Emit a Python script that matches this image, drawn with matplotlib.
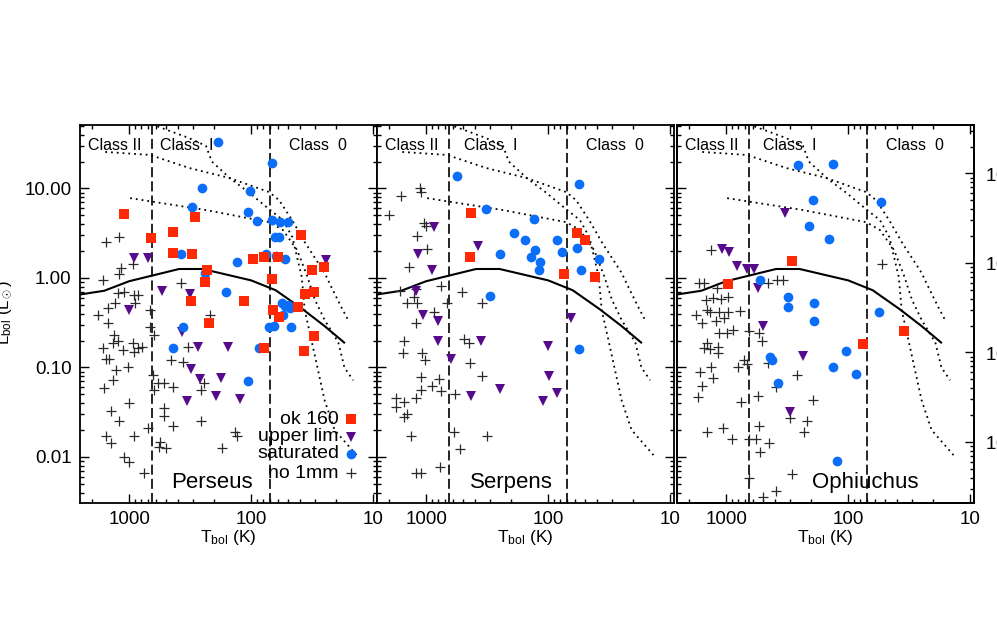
import matplotlib
matplotlib.use("Agg")
import matplotlib.pyplot as plt
from matplotlib.ticker import LogLocator, NullFormatter, FormatStrFormatter, LogFormatterMathtext

plt.rcParams['font.family'] = ['Liberation Sans', 'DejaVu Sans']
plt.rcParams['mathtext.fontset'] = 'custom'
plt.rcParams['mathtext.rm'] = 'Liberation Sans'
plt.rcParams['mathtext.it'] = 'Liberation Sans:italic'
plt.rcParams['mathtext.bf'] = 'Liberation Sans:bold'

# model curve (solid) and the three evolutionary tracks (dotted)
curve_t = [2600, 1600, 1000, 390, 250, 100, 63, 38, 25, 17.3]
curve_l = [0.65, 0.72, 0.92, 1.26, 1.26, 0.94, 0.73, 0.45, 0.29, 0.19]
track_a_t = [1570, 675, 320, 151, 71, 59, 46, 36, 25, 22, 18.2, 15.7]
track_a_l = [25.6, 23.7, 16.9, 13.1, 9.1, 7.4, 4.4, 2.46, 1.14, 0.79, 0.47, 0.32]
track_b_t = [650, 330, 235, 210, 150, 103, 70, 55, 46, 38.5, 36.4, 32, 25, 20.7, 13.7]
track_b_l = [52, 37, 30, 20, 13.1, 8.9, 5.75, 4.45, 2.87, 1.03, 0.44, 0.20, 0.043, 0.020, 0.0105]
track_c_t = [982, 237, 71, 55, 42, 35, 30, 25, 19.3, 17.2, 14.6]
track_c_l = [7.8, 5.75, 4.2, 3.44, 2.05, 1.08, 0.57, 0.34, 0.19, 0.10, 0.072]

# class boundaries (K)
class_bounds = [650, 70]

# ---- Perseus ----
per_ok_t = [1100, 660, 435, 290, 435, 305, 230, 240, 310, 115, 96, 78, 60, 67, 39, 32, 25.4,
            36, 30.6, 41, 220, 66, 59, 78, 30.6, 37]
per_ok_l = [5.2, 2.8, 3.3, 4.8, 1.9, 1.85, 1.23, 0.90, 0.55, 0.55, 1.63, 1.72, 1.72, 0.97, 3.0, 1.23, 1.33,
            0.66, 0.70, 0.47, 0.31, 0.44, 0.37, 0.165, 0.225, 0.153]
per_sat_t = [186, 67, 252, 102, 305, 106, 89, 67, 58, 50, 64, 59, 375, 239, 131, 75, 62, 53, 161,
             56, 53, 50, 48, 55, 71, 65, 47, 361, 436, 86, 106]
per_sat_l = [33, 19.2, 10.1, 9.4, 6.2, 5.46, 4.33, 4.45, 4.22, 4.22, 2.87, 2.87, 1.85, 1.14, 1.51, 1.85, 1.76, 1.63, 0.70,
             0.53, 0.49, 0.50, 0.46, 0.39, 0.28, 0.29, 0.28, 0.28, 0.165, 0.165, 0.070]
per_up_t = [910, 700, 537, 317, 24.5, 1000, 368, 272, 155, 311, 262, 176, 335, 194, 124]
per_up_l = [1.67, 1.67, 0.72, 0.66, 1.59, 0.44, 0.25, 0.17, 0.17, 0.096, 0.074, 0.076, 0.042, 0.048, 0.044]
per_no_t = [1540, 1208, 1164, 1208, 927, 1635, 1230, 1100, 910, 845, 1303, 1490, 1800, 893, 1490, 1330,
            1230, 1353, 1635, 1120, 927, 845, 783, 1545, 1460, 1280, 1353, 1605, 1020, 910, 1405, 1208,
            1000, 1545, 1405, 910, 1100, 1000, 754, 699, 673, 673, 625, 636, 625, 579, 557, 568, 498,
            517, 453, 361, 329, 436, 517, 517, 436, 257, 243, 257, 217, 173, 136, 131, 375]
per_no_l = [2.52, 2.87, 1.29, 1.11, 1.43, 0.95, 0.68, 0.70, 0.65, 0.65, 0.53, 0.46, 0.39, 0.53, 0.31, 0.23,
            0.20, 0.19, 0.165, 0.157, 0.19, 0.165, 0.17, 0.124, 0.124, 0.094, 0.072, 0.059, 0.101, 0.149, 0.033, 0.025,
            0.040, 0.017, 0.0143, 0.017, 0.0100, 0.0088, 0.0066, 0.021, 0.44, 0.28, 0.23, 0.082, 0.056, 0.067, 0.0147, 0.0129, 0.0126,
            0.067, 0.121, 0.115, 0.17, 0.061, 0.035, 0.029, 0.022, 0.056, 0.067, 0.025, 0.39, 0.0126, 0.019, 0.017, 0.88]

# ---- Serpens ----
ser_ok_t = [428, 436, 58, 50, 74, 41]
ser_ok_l = [5.3, 1.72, 3.18, 2.66, 1.11, 1.03]
ser_sat_t = [557, 56, 323, 131, 190, 155, 85, 248, 129, 139, 77, 58, 117, 119, 54, 38.4, 299, 56]
ser_sat_l = [13.8, 11.2, 5.9, 4.57, 3.18, 2.66, 2.66, 1.85, 2.05, 1.72, 1.95, 2.16, 1.51, 1.23, 1.23, 1.63, 0.63, 0.16]
ser_up_t = [860, 375, 1164, 893, 1208, 1060, 798, 798, 355, 625, 100, 65, 248, 428, 98, 85, 110]
ser_up_l = [3.71, 2.28, 1.85, 1.23, 0.72, 0.39, 0.33, 0.197, 0.197, 0.124, 0.174, 0.357, 0.058, 0.048, 0.080, 0.052, 0.042]
ser_no_t = [1120, 1100, 1605, 2010, 1038, 1000, 1185, 982, 1380, 1635, 1208, 1255, 1430, 1185, 754, 673,
            507, 348, 860, 1208, 1515, 1545, 1079, 1020, 489, 445, 436, 348, 1100, 783, 893, 1100, 754,
            1208, 1760, 1515, 1760, 1430, 1515, 579, 1330, 590, 317, 527, 1208, 1100, 768]
ser_no_l = [10.1, 9.1, 8.25, 5.06, 4.12, 3.81, 2.95, 2.11, 1.33, 0.72, 0.75, 0.61, 0.53, 0.53, 0.81, 0.53,
            0.70, 0.53, 0.42, 0.31, 0.20, 0.145, 0.145, 0.121, 0.21, 0.19, 0.112, 0.080, 0.078, 0.074, 0.062, 0.056, 0.055,
            0.046, 0.046, 0.041, 0.036, 0.030, 0.028, 0.050, 0.017, 0.019, 0.017, 0.0122, 0.0066, 0.0066, 0.0077]

# ---- Ophiuchus ----
oph_ok_t = [288, 963, 75, 35]
oph_ok_l = [1.55, 0.86, 0.183, 0.255]
oph_sat_t = [257, 133, 54, 194, 209, 144, 527, 311, 311, 190, 190, 56, 436, 420, 375, 133, 104, 86, 124]
oph_sat_l = [18.3, 18.8, 7.06, 7.4, 3.81, 2.73, 0.95, 0.61, 0.47, 0.53, 0.33, 0.42, 0.131, 0.121, 0.067, 0.101, 0.153, 0.085, 0.0090]
oph_up_t = [329, 1079, 945, 813, 673, 590, 547, 498, 235, 299]
oph_up_l = [5.3, 2.11, 1.95, 1.36, 1.26, 1.26, 0.77, 0.29, 0.134, 0.032]
oph_no_t = [1330, 1665, 1515, 1185, 1460, 1280, 1100, 963, 453, 382, 342, 53, 1760, 1430, 1353, 1140,
            963, 768, 1575, 1208, 1038, 876, 1140, 982, 649, 537, 507, 1430, 1515, 1353, 1164, 1164,
            712, 673, 798, 1635, 1330, 1575, 1280, 1700, 754, 547, 453, 390, 262, 299, 217, 230, 1430,
            1058, 893, 649, 568, 537, 445, 527, 649, 288, 390, 498, 194]
oph_no_l = [2.05, 0.88, 0.88, 0.77, 0.57, 0.60, 0.58, 0.61, 0.88, 0.95, 0.95, 1.43, 0.39, 0.44, 0.42, 0.42,
            0.42, 0.43, 0.31, 0.33, 0.36, 0.26, 0.24, 0.24, 0.255, 0.24, 0.20, 0.19, 0.165, 0.16, 0.17, 0.145,
            0.121, 0.11, 0.101, 0.089, 0.101, 0.062, 0.076, 0.047, 0.041, 0.048, 0.112, 0.060, 0.082, 0.027, 0.025, 0.019, 0.019,
            0.021, 0.016, 0.016, 0.016, 0.022, 0.0143, 0.0114, 0.0058, 0.0065, 0.0042, 0.0036, 0.043]

regions = [
    ("Perseus", per_ok_t, per_ok_l, per_up_t, per_up_l, per_sat_t, per_sat_l, per_no_t, per_no_l, 0.444),
    ("Serpens", ser_ok_t, ser_ok_l, ser_up_t, ser_up_l, ser_sat_t, ser_sat_l, ser_no_t, ser_no_l, 0.451),
    ("Ophiuchus", oph_ok_t, oph_ok_l, oph_up_t, oph_up_l, oph_sat_t, oph_sat_l, oph_no_t, oph_no_l, 0.633),
]
class1_x = [0.269, 0.293, 0.290]

red = '#ff2a05'
purple = '#560b8c'
blue = '#0b6ef8'
grey = '#2a2a2a'

xlim = (2530, 9.3)
ylim = (0.00306, 51.2)

fig = plt.figure(figsize=(9.97, 6.29), dpi=100)
lefts = [80, 377, 677]

for i, (name, okt, okl, upt, upl, satt, satl, not_, nol, namex) in enumerate(regions):
    ax = fig.add_axes([lefts[i] / 997, 126 / 629, 297 / 997, 378 / 629])
    ax.set_xscale('log')
    ax.set_yscale('log')
    ax.set_xlim(*xlim)
    ax.set_ylim(*ylim)

    for b in class_bounds:
        ax.axvline(b, color='black', lw=1.2, linestyle=(0, (6, 2.5)), zorder=1)
    for tt, tl in [(track_a_t, track_a_l), (track_b_t, track_b_l), (track_c_t, track_c_l)]:
        ax.plot(tt, tl, color='black', lw=1.3, linestyle=(0, (1, 2.2)), zorder=1)
    ax.plot(curve_t, curve_l, color='black', lw=1.5, zorder=2)

    ax.plot(not_, nol, linestyle='none', marker='+', ms=7, mew=0.9, color=grey, zorder=3)
    ax.plot(upt, upl, linestyle='none', marker='v', ms=7, mew=0, color=purple, zorder=4)
    ax.plot(satt, satl, linestyle='none', marker='o', ms=7, mew=0, color=blue, zorder=4)
    ax.plot(okt, okl, linestyle='none', marker='s', ms=6.5, mew=0, color=red, zorder=5)

    ax.text(0.027, 0.934, 'Class II', transform=ax.transAxes, fontsize=11.5, va='baseline')
    ax.text(class1_x[i], 0.934, 'Class  I', transform=ax.transAxes, fontsize=11.5, va='baseline')
    ax.text(0.703, 0.934, 'Class  0', transform=ax.transAxes, fontsize=11.5, va='baseline')
    ax.text(namex, 0.040, name, transform=ax.transAxes, fontsize=16, ha='center', va='baseline')
    ax.text(0.5, -0.103, r'T$_{\rm bol}$ (K)', transform=ax.transAxes, fontsize=12.5,
            ha='center', va='baseline')

    ax.xaxis.set_major_locator(LogLocator(base=10))
    ax.xaxis.set_minor_locator(LogLocator(base=10, subs=range(2, 10)))
    ax.xaxis.set_major_formatter(FormatStrFormatter('%d'))
    ax.xaxis.set_minor_formatter(NullFormatter())
    ax.yaxis.set_major_locator(LogLocator(base=10))
    ax.yaxis.set_minor_locator(LogLocator(base=10, subs=range(2, 10)))
    ax.yaxis.set_major_formatter(FormatStrFormatter('%.2f'))
    ax.yaxis.set_minor_formatter(NullFormatter())
    ax.tick_params(which='both', direction='in', top=True, right=True, width=1, labelsize=13.5)
    ax.tick_params(which='major', length=6.5, pad=6)
    ax.tick_params(which='minor', length=3.2)
    for s in ax.spines.values():
        s.set_linewidth(1.3)
    if i > 0:
        ax.tick_params(labelleft=False)

    if i == 0:
        # legend drawn by hand, labels right-aligned with the symbol after them
        leg = [('ok 160', 's', red), ('upper lim', 'v', purple),
               ('saturated', 'o', blue), ('no 1mm', '+', grey)]
        ys = [0.222, 0.175, 0.130, 0.079]
        for (lab, mk, col), yy in zip(leg, ys):
            ax.text(0.872, yy, lab, transform=ax.transAxes, fontsize=14, ha='right', va='center')
            ax.plot([0.912], [yy], transform=ax.transAxes, marker=mk, ms=7, mew=0.9 if mk == '+' else 0,
                    color=col, linestyle='none', clip_on=False)

    if i == 2:
        # second y scale on the right of the last panel (labels run off the figure edge)
        tw = ax.twinx()
        tw.set_yscale('log')
        tw.set_ylim(ylim[0] / 1.471, ylim[1] / 1.471)
        tw.yaxis.set_major_locator(LogLocator(base=10))
        tw.yaxis.set_minor_locator(LogLocator(base=10, subs=range(2, 10)))
        tw.yaxis.set_major_formatter(LogFormatterMathtext())
        tw.yaxis.set_minor_formatter(NullFormatter())
        tw.tick_params(which='both', direction='in', width=1, labelsize=13.5)
        tw.tick_params(which='major', length=6.5, pad=8)
        tw.tick_params(which='minor', length=3.2)
        for s in tw.spines.values():
            s.set_linewidth(1.3)

fig.text(0.0045, 0.5024, r'L$_{\rm bol}$ (L$_\odot$)', rotation=90, fontsize=12,
         ha='center', va='center')

fig.savefig('out.png', dpi=100)
